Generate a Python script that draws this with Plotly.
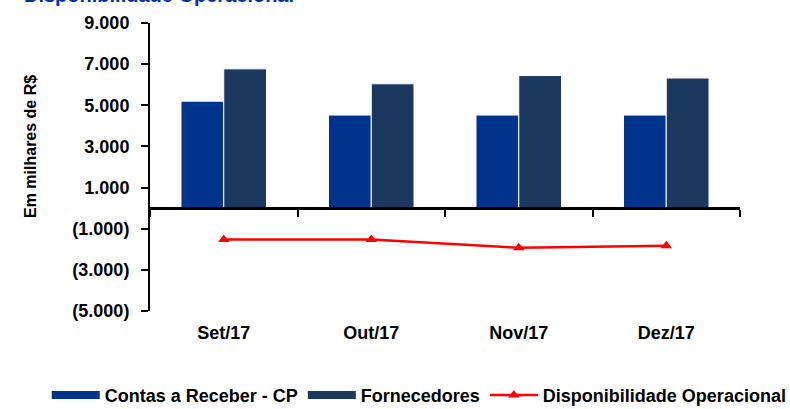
import plotly.graph_objects as go

categories = ["Set/17", "Out/17", "Nov/17", "Dez/17"]
contas_receber = [5200, 4525, 4525, 4525]
fornecedores = [6770, 6045, 6445, 6325]
disponibilidade = [-1530, -1520, -1930, -1830]

tick_vals = [-5000, -3000, -1000, 1000, 3000, 5000, 7000, 9000]
tick_text = ["(5.000)", "(3.000)", "(1.000)", "1.000", "3.000", "5.000", "7.000", "9.000"]

c_contas = "#00338C"
c_forn = "#1B385E"
c_disp = "#FF0000"
font = "Liberation Sans, Arial, sans-serif"
ymin, ymax = -5000, 9000
fs = 18

fig = go.Figure()
fig.add_trace(go.Bar(x=categories, y=contas_receber, name="Contas a Receber - CP",
                     marker=dict(color=c_contas, line=dict(color="white", width=1)),
                     showlegend=False))
fig.add_trace(go.Bar(x=categories, y=fornecedores, name="Fornecedores",
                     marker=dict(color=c_forn, line=dict(color="white", width=1)),
                     showlegend=False))
fig.add_trace(go.Scatter(x=categories, y=disponibilidade, name="Disponibilidade Operacional",
                         xaxis="x2", yaxis="y", mode="lines+markers",
                         line=dict(color=c_disp, width=2.5),
                         marker=dict(symbol="triangle-up", size=10, color=c_disp),
                         showlegend=False))
# legend proxies (wide swatches like the original)
fig.add_trace(go.Scatter(x=[None], y=[None], mode="lines", name="Contas a Receber - CP",
                         line=dict(color=c_contas, width=8)))
fig.add_trace(go.Scatter(x=[None], y=[None], mode="lines", name="Fornecedores",
                         line=dict(color=c_forn, width=8)))
fig.add_trace(go.Scatter(x=[None], y=[None], mode="lines+markers", name="Disponibilidade Operacional",
                         line=dict(color=c_disp, width=2.5),
                         marker=dict(symbol="triangle-up", size=10, color=c_disp)))

fig.update_layout(
    width=790, height=409,
    margin=dict(l=150, r=50, t=23, b=98, autoexpand=False),
    paper_bgcolor="white", plot_bgcolor="white",
    font=dict(family=font, size=fs, color="black"),
    barmode="group", bargap=0.42, bargroupgap=0,
    xaxis=dict(type="category", categoryarray=categories, range=[-0.5, 3.5],
               showline=False, showgrid=False, zeroline=False, ticks="",
               ticklabelstandoff=9,
               tickfont=dict(family=font, size=fs, color="black", weight="bold")),
    xaxis2=dict(type="category", categoryarray=categories, range=[-0.5, 3.5],
                overlaying="x", anchor="free", position=(0 - ymin) / (ymax - ymin),
                showline=True, linecolor="black", linewidth=2.5,
                ticks="outside", tickson="boundaries", ticklen=7, tickwidth=2, tickcolor="black",
                showticklabels=False, showgrid=False, zeroline=False),
    yaxis=dict(range=[ymin, ymax], tickvals=tick_vals, ticktext=tick_text,
               showline=True, linecolor="black", linewidth=2,
               ticks="outside", ticklen=7, tickwidth=2, tickcolor="black",
               ticklabelstandoff=8,
               showgrid=False, zeroline=False,
               tickfont=dict(family=font, size=fs, color="black", weight="bold")),
    legend=dict(orientation="h", x=-0.175, xanchor="left", y=-0.293, yanchor="middle",
                font=dict(family=font, size=fs, color="black", weight="bold"),
                itemwidth=48, traceorder="normal"),
    annotations=[
        dict(text="Em milhares de R$", textangle=-90, xref="paper", yref="paper",
             x=(30 - 150) / 590, y=(311 - 146) / 288, xanchor="center", yanchor="middle",
             showarrow=False, font=dict(family=font, size=16, color="black", weight="bold")),
        dict(text="Disponibilidade Operacional", xref="paper", yref="paper",
             x=(22 - 150) / 590, y=(311 - 8) / 288, xanchor="left", yanchor="bottom",
             showarrow=False, font=dict(family=font, size=20, color="#0033A0", weight="bold")),
    ],
)

fig.write_html("out.html", config={"displayModeBar": False},
               post_script="document.body.style.margin='0';document.body.style.overflow='hidden';")
